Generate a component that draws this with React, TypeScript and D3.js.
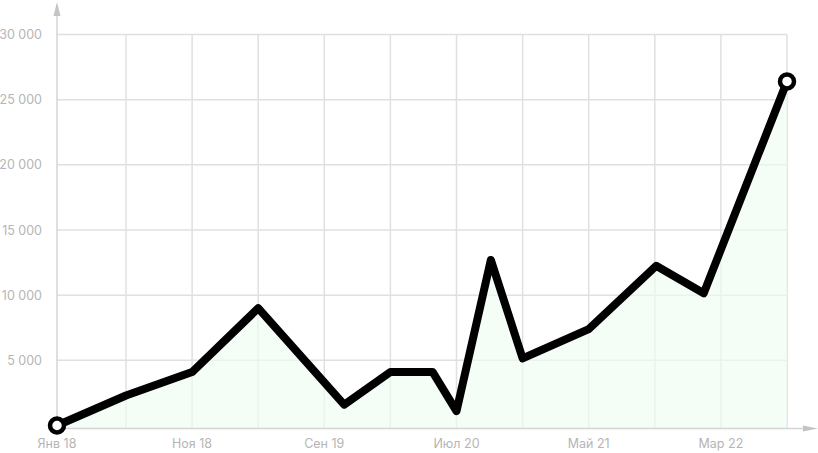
import React from "react";
import * as d3 from "d3";

// Months since January 2018 for every point of the series
const months = [0, 5, 10, 15, 21.5, 25, 28.2, 30, 32.6, 35, 40, 45.1, 48.7, 55];
const values = [0, 2300, 4100, 9000, 1600, 4100, 4100, 1100, 12700, 5150, 7400, 12250, 10150, 26400];

const xTickMonths = [0, 10, 20, 30, 40, 50];
const xTickLabels = ["Янв 18", "Ноя 18", "Сен 19", "Июл 20", "Май 21", "Мар 22"];
const xGridMonths = [5, 10, 15, 20, 25, 30, 35, 40, 45, 50, 55];
const yTicks = [5000, 10000, 15000, 20000, 25000, 30000];

const W = 818;
const H = 453;

export default function App() {
  const x = d3.scaleLinear().domain([0, 5, 55]).range([57, 126, 787]);
  const y = d3.scaleLinear().domain([0, 30000]).range([425.5, 34.5]);
  const axisY = 428.5;
  const axisX = 57;

  const pts: [number, number][] = months.map((m, i) => [m, values[i]]);
  const line = d3
    .line<[number, number]>()
    .x((d) => x(d[0]))
    .y((d) => y(d[1]));
  const area = d3
    .area<[number, number]>()
    .x((d) => x(d[0]))
    .y0(axisY)
    .y1((d) => y(d[1]));

  const fmt = (v: number) => d3.format(",")(v).replace(/,/g, " ");
  const gridColor = "#e0e0e0";
  const axisColor = "#d4d4d4";
  const labelColor = "#b5b5b5";
  const font = "Inter, 'Noto Sans', sans-serif";
  const first = pts[0];
  const last = pts[pts.length - 1];

  return (
    <svg
      width={W}
      height={H}
      style={{ position: "absolute", left: 0, top: 0, display: "block" }}
    >
      <rect width={W} height={H} fill="#ffffff" />
      {yTicks.map((t) => (
        <line
          key={"h" + t}
          x1={axisX}
          x2={x(55)}
          y1={y(t)}
          y2={y(t)}
          stroke={gridColor}
          strokeWidth={1.5}
        />
      ))}
      {xGridMonths.map((m) => (
        <line
          key={"v" + m}
          x1={x(m)}
          x2={x(m)}
          y1={y(30000)}
          y2={axisY}
          stroke={gridColor}
          strokeWidth={1.5}
        />
      ))}
      <path d={area(pts) || ""} fill="#eefcf1" fillOpacity={0.65} />
      <line x1={axisX} x2={axisX} y1={12} y2={axisY} stroke={axisColor} strokeWidth={1.5} />
      <path d={`M${axisX - 3.5},16 L${axisX},2 L${axisX + 3.5},16 Z`} fill="#c4c4c4" />
      <line x1={axisX} x2={805} y1={axisY} y2={axisY} stroke={axisColor} strokeWidth={1.5} />
      <path d={`M803,${axisY - 3} L818,${axisY} L803,${axisY + 3} Z`} fill="#c4c4c4" />
      <path
        d={line(pts) || ""}
        fill="none"
        stroke="#000000"
        strokeWidth={8}
        strokeLinejoin="round"
      />
      {[first, last].map((p, i) => (
        <circle
          key={"c" + i}
          cx={x(p[0])}
          cy={y(p[1])}
          r={7}
          fill="#ffffff"
          stroke="#000000"
          strokeWidth={4.5}
        />
      ))}
      {yTicks.map((t) => (
        <text
          key={"yl" + t}
          x={42}
          y={y(t)}
          dy="0.36em"
          textAnchor="end"
          fontFamily={font}
          fontSize={12.5}
          fill={labelColor}
        >
          {fmt(t)}
        </text>
      ))}
      {xTickMonths.map((m, i) => (
        <text
          key={"xl" + m}
          x={x(m)}
          y={448}
          textAnchor="middle"
          fontFamily={font}
          fontSize={12.5}
          fill={labelColor}
        >
          {xTickLabels[i]}
        </text>
      ))}
    </svg>
  );
}
